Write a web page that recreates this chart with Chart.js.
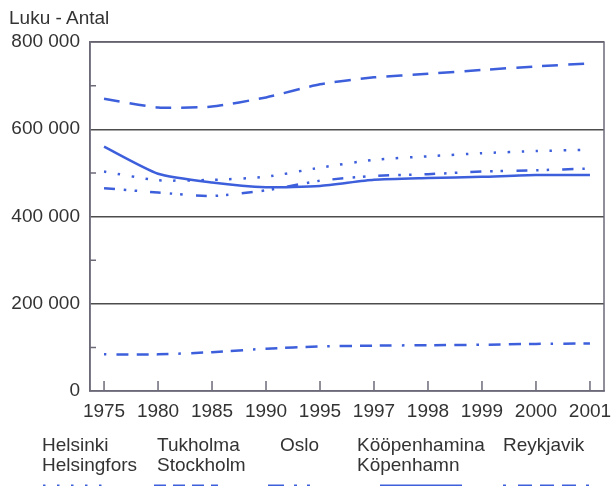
<!DOCTYPE html>
<html>
<head>
<meta charset="utf-8">
<script src="https://cdn.jsdelivr.net/npm/chart.js@4"></script>
<style>
  body { margin: 0; background: #fff; }
  #wrap { position: relative; width: 611px; height: 486px; overflow: hidden; font-family: "Liberation Sans", Arial, sans-serif; color: #333; }
  #wrap canvas { position: absolute; left: 0; top: 0; }
  .txt { position: absolute; font-size: 19px; line-height: 20px; white-space: nowrap; }
</style>
</head>
<body>
<div id="wrap">
  <canvas id="chart" width="611" height="486"></canvas>
  <div class="txt" style="left:9px; top:8px;">Luku - Antal</div>
  <div class="txt" style="left:42px; top:435px;">Helsinki<br>Helsingfors</div>
  <div class="txt" style="left:157px; top:435px;">Tukholma<br>Stockholm</div>
  <div class="txt" style="left:280px; top:435px;">Oslo</div>
  <div class="txt" style="left:357px; top:435px;">Kööpenhamina<br>Köpenhamn</div>
  <div class="txt" style="left:503px; top:435px;">Reykjavik</div>
</div>
<script>
var vuodet = ['1975', '1980', '1985', '1990', '1995', '1997', '1998', '1999', '2000', '2001'];
var helsinki = [503000, 483000, 484000, 491000, 512000, 530000, 538000, 545000, 550000, 553000];
var tukholma = [670000, 650000, 652000, 673000, 703000, 719000, 727000, 736000, 744000, 751000];
var oslo = [465000, 455000, 447000, 460000, 482000, 493000, 497000, 503000, 506000, 510000];
var kopenhamn = [560000, 498000, 478000, 467000, 470000, 484000, 488000, 491000, 495000, 495000];
var reykjavik = [84000, 84000, 89000, 97000, 102000, 104000, 105000, 106000, 108000, 109000];

var sininen = '#3d5fdc';
var viiva = '#6d6a78';
var fontti = { size: 19, family: '"Liberation Sans", Arial, sans-serif' };

function pisteet(arvot) {
    return arvot.map((v, i) => ({ x: i, y: v }));
}

// legend sample positions: [start, end, dash]
var selite = [
    [43, 106, [2.5, 11.5]],
    [154, 218, [12, 7]],
    [268, 316, [16, 10, 3, 10, 3, 10]],
    [380, 462, []],
    [503, 600, [3, 12, 14, 8, 14, 8, 14, 10]]
];

var kehys = {
    id: 'kehys',
    afterDraw(chart) {
        var ctx = chart.ctx;
        var a = chart.chartArea;
        var y = chart.scales.y;
        var x = chart.scales.x;
        ctx.save();
        ctx.strokeStyle = viiva;
        ctx.lineWidth = 1.5;
        ctx.strokeRect(a.left, a.top, a.right - a.left, a.bottom - a.top);
        // minor ticks inside the left axis
        ctx.beginPath();
        [100000, 300000, 500000, 700000].forEach(v => {
            var py = y.getPixelForValue(v);
            ctx.moveTo(a.left, py);
            ctx.lineTo(a.left + 6, py);
        });
        // year ticks pointing up from the bottom
        vuodet.forEach((_, i) => {
            var px = x.getPixelForValue(i);
            ctx.moveTo(px, a.bottom);
            ctx.lineTo(px, a.bottom - 10);
        });
        ctx.stroke();
        // legend samples
        ctx.strokeStyle = sininen;
        ctx.lineWidth = 7;
        selite.forEach(s => {
            ctx.setLineDash(s[2]);
            ctx.beginPath();
            ctx.moveTo(s[0], 488);
            ctx.lineTo(s[1], 488);
            ctx.stroke();
        });
        ctx.restore();
    }
};

var yhteiset = {
    borderColor: sininen,
    backgroundColor: 'transparent',
    borderWidth: 2.5,
    pointRadius: 0,
    tension: 0.2,
    fill: false
};

var ct = document.getElementById('chart');

var grafiikka = new Chart(ct, {
    type: 'line',
    data: {
        datasets: [
            Object.assign({ label: 'Helsinki', data: pisteet(helsinki), borderDash: [2.5, 11.5] }, yhteiset),
            Object.assign({ label: 'Tukholma', data: pisteet(tukholma), borderDash: [16, 10] }, yhteiset),
            Object.assign({ label: 'Oslo', data: pisteet(oslo), borderDash: [11, 9, 2.5, 8, 2.5, 13] }, yhteiset),
            Object.assign({ label: 'Kööpenhamina', data: pisteet(kopenhamn) }, yhteiset),
            Object.assign({ label: 'Reykjavik', data: pisteet(reykjavik), borderDash: [2.5, 10, 12, 8, 12, 8, 12, 10] }, yhteiset)
        ]
    },
    options: {
        responsive: false,
        animation: false,
        layout: { padding: { top: 42, right: 7, left: 0, bottom: 0 } },
        plugins: {
            legend: { display: false },
            tooltip: { enabled: false }
        },
        scales: {
            x: {
                type: 'linear',
                min: -0.26,
                max: 9.26,
                afterFit(s) { s.height = 95; s.paddingLeft = 0; s.paddingRight = 0; },
                grid: { display: false },
                border: { display: true, color: viiva, width: 1.5 },
                ticks: {
                    stepSize: 1,
                    includeBounds: false,
                    autoSkip: false,
                    maxRotation: 0,
                    padding: 1,
                    color: '#333',
                    font: fontti,
                    callback: v => Number.isInteger(v) ? vuodet[v] : ''
                }
            },
            y: {
                min: 0,
                max: 800000,
                afterFit(s) { s.width = 90; },
                grid: {
                    drawTicks: false,
                    lineWidth: 1.5,
                    color: c => (c.tick && c.tick.value % 200000 === 0 && c.tick.value > 0) ? '#4d4d4d' : 'transparent'
                },
                border: { display: true, color: viiva, width: 1.5 },
                ticks: {
                    stepSize: 100000,
                    autoSkip: false,
                    padding: 10,
                    color: '#333',
                    font: fontti,
                    callback: v => v % 200000 === 0 ? String(v).replace(/\B(?=(\d{3})+(?!\d))/g, ' ') : ''
                }
            }
        }
    },
    plugins: [kehys]
});
</script>
</body>
</html>
